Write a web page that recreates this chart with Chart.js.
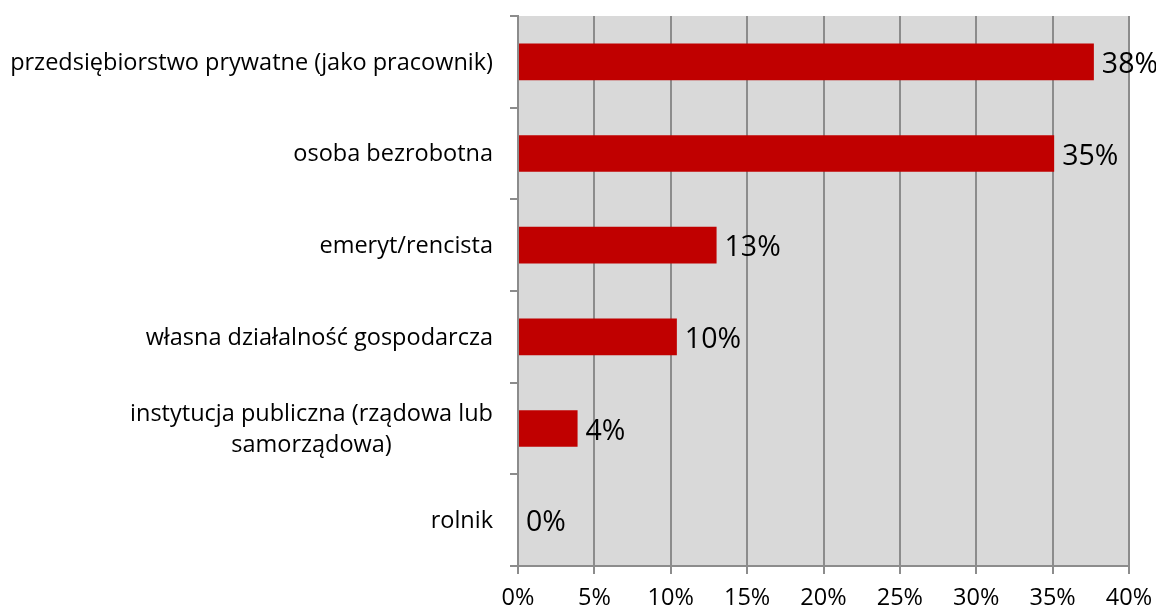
<!DOCTYPE html>
<html>
<head>
<meta charset="utf-8">
<script src="https://cdn.jsdelivr.net/npm/chart.js@4/dist/chart.umd.min.js"></script>
<style>
  html, body { margin: 0; padding: 0; background: #ffffff; }
  #wrap { width: 1156px; height: 610px; }
</style>
</head>
<body>
<div id="wrap"><canvas id="chart" width="1156" height="610"></canvas></div>
<script>
// data
const categories = [
    ["przedsiębiorstwo prywatne (jako pracownik)"],
    ["osoba bezrobotna"],
    ["emeryt/rencista"],
    ["własna działalność gospodarcza"],
    ["instytucja publiczna (rządowa lub", "samorządowa)"],
    ["rolnik"]
];
const shares = [37.7, 35.1, 13.0, 10.4, 3.9, 0];
const xTicks = [0, 5, 10, 15, 20, 25, 30, 35, 40];

const FONT = "'Open Sans', 'DejaVu Sans', sans-serif";

// grey plot background
const plotBg = {
    id: "plotBg",
    beforeDraw(chart) {
        const a = chart.chartArea;
        const ctx = chart.ctx;
        ctx.save();
        ctx.fillStyle = "#d9d9d9";
        ctx.fillRect(a.left, a.top, a.right - a.left, a.bottom - a.top);
        ctx.restore();
    }
};

// category labels: right aligned block, lines centred within it
const catLabels = {
    id: "catLabels",
    afterDraw(chart) {
        const scale = chart.scales.y;
        const ctx = chart.ctx;
        ctx.save();
        ctx.font = "23.5px " + FONT;
        ctx.fillStyle = "#000000";
        ctx.textAlign = "center";
        ctx.textBaseline = "middle";
        const right = scale.right - 25;
        const lh = 31;
        categories.forEach((lines, i) => {
            const y = scale.getPixelForTick(i) + 1;
            const w = Math.max(...lines.map(l => ctx.measureText(l).width));
            const cx = right - w / 2;
            const y0 = y - (lines.length - 1) * lh / 2;
            lines.forEach((l, j) => ctx.fillText(l, cx, y0 + j * lh));
        });
        ctx.restore();
    }
};

// value labels at the bar ends
const valueLabels = {
    id: "valueLabels",
    afterDatasetsDraw(chart) {
        const ctx = chart.ctx;
        const meta = chart.getDatasetMeta(0);
        ctx.save();
        ctx.font = "28.5px " + FONT;
        ctx.fillStyle = "#000000";
        ctx.textAlign = "left";
        ctx.textBaseline = "middle";
        meta.data.forEach((bar, i) => {
            ctx.fillText(Math.round(shares[i]) + "%", bar.x + 8, bar.y + 3);
        });
        ctx.restore();
    }
};

new Chart(document.getElementById("chart"), {
    type: "bar",
    data: {
        labels: categories,
        datasets: [{
            data: shares,
            backgroundColor: "#c00000",
            borderWidth: 0,
            categoryPercentage: 1,
            barPercentage: 0.4
        }]
    },
    options: {
        indexAxis: "y",
        responsive: false,
        animation: false,
        events: [],
        layout: { padding: { left: 0, right: 27, top: 16, bottom: 0 } },
        plugins: {
            legend: { display: false },
            tooltip: { enabled: false }
        },
        scales: {
            x: {
                min: 0,
                max: 40,
                afterBuildTicks(scale) {
                    scale.ticks = xTicks.map(v => ({ value: v }));
                },
                afterFit(scale) {
                    scale.height = 44;
                    scale.paddingLeft = 0;
                    scale.paddingRight = 0;
                },
                grid: {
                    color: "#8c8c8c",
                    lineWidth: 2,
                    drawTicks: true,
                    tickLength: 8,
                    tickColor: "#8c8c8c"
                },
                border: { display: true, color: "#8c8c8c", width: 2 },
                ticks: {
                    color: "#000000",
                    font: { family: FONT, size: 23.5 },
                    padding: 10,
                    maxRotation: 0,
                    callback: v => v + "%"
                }
            },
            y: {
                afterFit(scale) { scale.width = 518; },
                grid: {
                    offset: true,
                    drawOnChartArea: false,
                    drawTicks: true,
                    tickLength: 8,
                    tickColor: "#8c8c8c",
                    lineWidth: 2
                },
                border: { display: true, color: "#8c8c8c", width: 2 },
                ticks: {
                    color: "rgba(0,0,0,0)",
                    font: { family: FONT, size: 20 }
                }
            }
        }
    },
    plugins: [plotBg, catLabels, valueLabels]
});
</script>
</body>
</html>
